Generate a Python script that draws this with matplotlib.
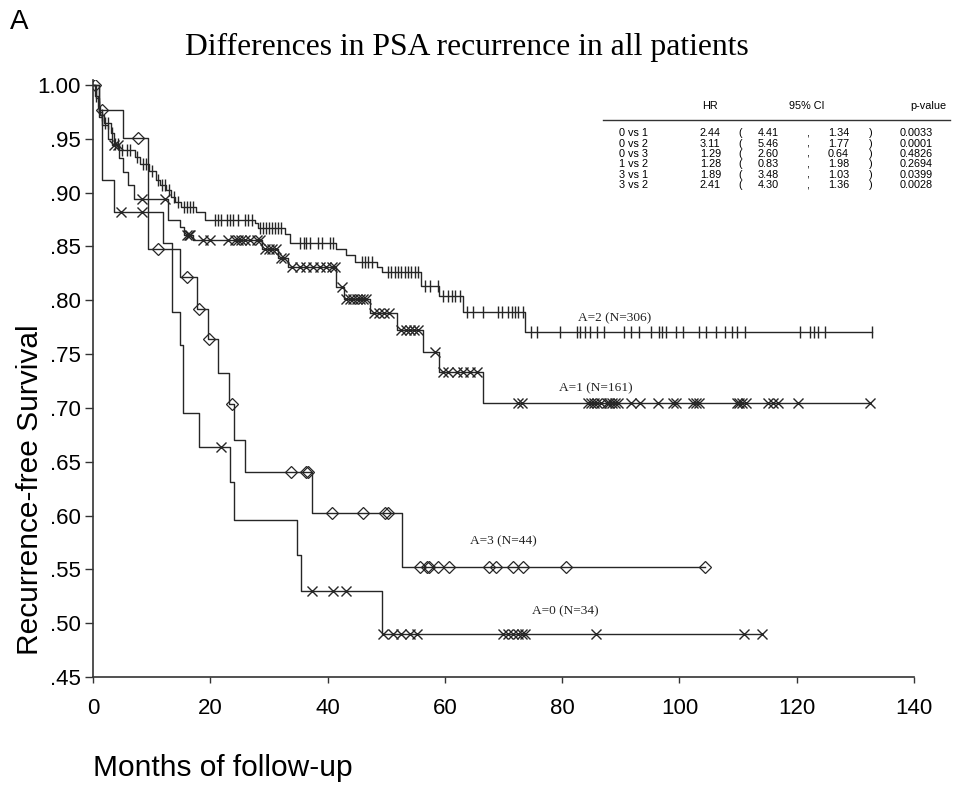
import numpy as np
import matplotlib
matplotlib.use("Agg")
import matplotlib.pyplot as plt
from matplotlib.ticker import FixedLocator

# ---------------- data ----------------
# A=0 (N=34)
a0_times = [0, 1.0, 1.6, 3.5, 12.0, 13.4, 14.8, 15.4, 18.0, 23.4, 24.1, 34.8, 35.4, 49.2]
a0_surv = [1.0, 0.970, 0.912, 0.882, 0.853, 0.789, 0.758, 0.695, 0.664, 0.631, 0.596, 0.563, 0.530, 0.490]
a0_cens = [4.7, 8.3, 21.9, 37.4, 41.0, 43.2, 49.4, 51.2, 52.5, 54.0, 55.3, 69.9, 70.8, 71.6,
           72.5, 73.1, 73.6, 85.7, 111.0, 114.0]

# A=1 (N=161)
a1_times = [0, 0.5, 1.0, 1.5, 2.5, 3.2, 4.5, 5.2, 6.0, 7.0, 12.8, 14.8, 15.5, 17.0, 28.8, 31.6,
            33.3, 41.5, 42.8, 47.3, 51.8, 56.3, 59.0, 66.5]
a1_surv = [1.0, 0.988, 0.975, 0.963, 0.950, 0.944, 0.932, 0.919, 0.907, 0.894, 0.875, 0.868, 0.861,
           0.856, 0.848, 0.839, 0.831, 0.8125, 0.801, 0.7885, 0.772, 0.752, 0.733, 0.705]
a1_cens = [3.5, 4.2, 8.3, 12.3, 16.0, 16.3, 16.6, 18.8, 19.9, 23.1, 24.2, 24.8, 25.3, 25.9, 26.8,
           27.9, 28.5, 29.3, 30.0, 30.6, 31.2, 32.0, 32.6, 33.9, 35.3, 36.4, 37.6, 38.7, 39.8, 40.7,
           41.3, 42.4, 43.2, 43.8, 44.4, 45.0, 45.5, 46.1, 46.6, 47.9, 48.7, 49.6, 50.4, 52.5, 53.3,
           54.0, 54.8, 55.5, 58.3, 59.7, 60.6, 62.0, 63.1, 64.3, 65.4, 72.5, 73.1, 84.4, 85.0, 85.4,
           85.9, 86.7, 87.6, 88.0, 88.5, 89.0, 89.6, 91.8, 93.2, 96.4, 98.9, 99.5, 102.3, 102.9,
           103.4, 109.8, 110.2, 110.6, 111.4, 115.1, 116.0, 116.8, 120.2, 132.5]

# A=2 (N=306)
a2_times = [0, 0.3, 0.8, 1.2, 1.8, 3.0, 3.5, 4.5, 7.2, 8.0, 9.5, 10.8, 11.5, 12.5, 13.3, 14.0, 15.0,
            17.5, 19.1, 27.6, 28.2, 32.7, 33.6, 41.5, 43.2, 44.7, 48.4, 49.2, 56.0, 59.0, 63.1, 73.6]
a2_surv = [1.0, 0.990, 0.980, 0.972, 0.965, 0.955, 0.945, 0.940, 0.933, 0.927, 0.920, 0.912, 0.907,
           0.902, 0.896, 0.891, 0.887, 0.882, 0.8745, 0.8715, 0.867, 0.862, 0.853, 0.848, 0.842,
           0.836, 0.831, 0.826, 0.813, 0.804, 0.789, 0.7707]
a2_cens = [0.5, 1.0, 1.5, 2.0, 2.5, 3.3, 3.8, 4.2, 5.0, 5.8, 6.3, 7.5, 8.5, 9.0, 10.0, 11.0, 11.8,
           12.3, 13.0, 13.8, 14.5, 15.5, 16.0, 16.5, 17.0, 20.8, 21.4, 21.9, 22.8, 23.4, 23.9, 24.8,
           25.9, 26.5, 27.1, 28.5, 29.0, 29.5, 30.0, 30.5, 31.0, 31.5, 32.0, 35.3, 35.9, 36.4, 37.0,
           38.4, 39.0, 40.4, 41.0, 45.8, 46.4, 46.9, 47.5, 50.3, 50.9, 51.5, 52.0, 52.6, 53.2, 53.8,
           54.3, 54.9, 55.5, 56.6, 57.4, 58.9, 59.7, 60.5, 61.2, 61.8, 62.5, 63.7, 64.8, 66.5, 69.1,
           69.7, 70.8, 71.4, 72.0, 72.5, 73.4, 74.7, 75.7, 79.6, 82.6, 83.1, 83.9, 84.7, 85.9, 87.2,
           90.5, 91.8, 93.1, 95.2, 96.5, 97.1, 97.7, 99.5, 100.6, 103.4, 104.5, 106.3, 107.7, 108.9,
           109.9, 111.2, 120.6, 122.2, 122.9, 123.6, 124.8, 132.9]

# A=3 (N=44)
a3_times = [0, 1.0, 5.2, 9.4, 14.8, 17.7, 19.6, 21.4, 23.2, 24.0, 25.9, 37.4, 52.7]
a3_surv = [1.0, 0.977, 0.951, 0.848, 0.822, 0.792, 0.764, 0.732, 0.704, 0.670, 0.640, 0.602, 0.552]
a3_cens = [0.3, 1.5, 7.7, 11.1, 16.1, 18.0, 19.8, 23.7, 33.7, 36.4, 36.7, 40.8, 46.1, 49.8, 50.3,
           55.7, 56.9, 57.3, 58.9, 60.7, 67.6, 68.8, 71.7, 73.3, 80.6, 104.4]

group_labels = ["A=0 (N=34)", "A=1 (N=161)", "A=2 (N=306)", "A=3 (N=44)"]
label_pos = [(80.6, 0.511), (85.8, 0.718), (88.9, 0.7835), (69.9, 0.576)]

# table
cmp_names = ["0 vs 1", "0 vs 2", "0 vs 3", "1 vs 2", "3 vs 1", "3 vs 2"]
hr_vals = ["2.44", "3.11", "1.29", "1.28", "1.89", "2.41"]
ci_first = ["4.41", "5.46", "2.60", "0.83", "3.48", "4.30"]
ci_second = ["1.34", "1.77", "0.64", "1.98", "1.03", "1.36"]
p_vals = ["0.0033", "0.0001", "0.4826", "0.2694", "0.0399", "0.0028"]

x_ticks = [0, 20, 40, 60, 80, 100, 120, 140]
y_ticks = [0.45, 0.50, 0.55, 0.60, 0.65, 0.70, 0.75, 0.80, 0.85, 0.90, 0.95, 1.00]
y_ticklabels = [".45", ".50", ".55", ".60", ".65", ".70", ".75", ".80", ".85", ".90", ".95", "1.00"]

# ---------------- figure ----------------
W, H = 958, 786
fig = plt.figure(figsize=(W / 100, H / 100), dpi=100)
ymin, ymax = 0.45, 1.005
ax_l, ax_r = 93, 914
ax_b = 677
ax_t = 85 - (ymax - 1.0) * 1076
ax = fig.add_axes([ax_l / W, 1 - ax_b / H, (ax_r - ax_l) / W, (ax_b - ax_t) / H])
ax.set_xlim(0, 140)
ax.set_ylim(ymin, ymax)

lc = "#262626"
serif = ["Liberation Serif", "DejaVu Serif"]
sans = ["Liberation Sans", "DejaVu Sans"]


def draw(times, surv, cens, marker, ms, mew):
    t = np.asarray(times, float)
    s = np.asarray(surv, float)
    c = np.asarray(cens, float)
    tend = max(t.max(), c.max())
    tt = np.append(t, tend)
    ss = np.append(s, s[-1])
    ax.step(tt, ss, where="post", color=lc, lw=1.0, zorder=2)
    idx = np.searchsorted(t, c, side="right") - 1
    ax.plot(c, s[idx], linestyle="none", marker=marker, ms=ms, mew=mew,
            mfc="none", mec=lc, zorder=3)


draw(a0_times, a0_surv, a0_cens, "x", 7.5, 1.0)
draw(a1_times, a1_surv, a1_cens, "x", 6.5, 1.0)
draw(a2_times, a2_surv, a2_cens, "|", 9, 1.0)
draw(a3_times, a3_surv, a3_cens, "D", 6, 0.9)

for lab, (lx, ly) in zip(group_labels, label_pos):
    ax.text(lx, ly, lab, fontsize=9.6, family=serif, ha="center", va="center", color="#222222")

for sp in ["top", "right"]:
    ax.spines[sp].set_visible(False)
for sp in ["left", "bottom"]:
    ax.spines[sp].set_linewidth(1.2)
    ax.spines[sp].set_color("#333333")

ax.xaxis.set_major_locator(FixedLocator(x_ticks))
ax.set_xticklabels([str(v) for v in x_ticks], fontsize=16, family=sans)
ax.yaxis.set_major_locator(FixedLocator(y_ticks))
ax.set_yticklabels(y_ticklabels, fontsize=16, family=sans)
ax.tick_params(axis="x", direction="out", length=4, width=1, pad=11, colors="#333333",
               labelcolor="black")
ax.tick_params(axis="y", direction="out", length=6, width=1, pad=3, colors="#333333",
               labelcolor="black")

# axis labels
fig.text(30 / W, 1 - 490 / H, "Recurrence-free Survival", rotation=90, fontsize=21.5,
         family=sans, ha="center", va="center")
fig.text(93 / W, 1 - 768 / H, "Months of follow-up", fontsize=21.5, family=sans,
         ha="left", va="center")

# title and panel letter
fig.text(467 / W, 1 - 47 / H, "Differences in PSA recurrence in all patients", fontsize=22.8,
         family=serif, ha="center", va="center")
fig.text(10 / W, 1 - 22 / H, "A", fontsize=20, family=sans, ha="left", va="center")

# table
tfs = 7.8
hy = 1 - 106 / H
fig.text(710 / W, hy, "HR", fontsize=tfs, family=sans, ha="center", va="center")
fig.text(807 / W, hy, "95% CI", fontsize=tfs, family=sans, ha="center", va="center")
fig.text(946 / W, hy, "p-value", fontsize=tfs, family=sans, ha="right", va="center")
fig.add_artist(plt.Line2D([603 / W, 950 / W], [1 - 119.5 / H, 1 - 119.5 / H],
                          color="#333333", lw=1.0))
row_y0, row_dy = 133.3, 10.35
for i in range(len(cmp_names)):
    y = 1 - (row_y0 + i * row_dy) / H
    fig.text(619 / W, y, cmp_names[i], fontsize=tfs, family=sans, ha="left", va="center")
    fig.text(700 / W, y, hr_vals[i], fontsize=tfs, family=sans, ha="left", va="center")
    fig.text(738 / W, y, "(", fontsize=tfs, family=sans, ha="left", va="center")
    fig.text(758 / W, y, ci_first[i], fontsize=tfs, family=sans, ha="left", va="center")
    fig.text(806 / W, y, ",", fontsize=tfs, family=sans, ha="left", va="center")
    fig.text(828 / W, y, ci_second[i], fontsize=tfs, family=sans, ha="left", va="center")
    fig.text(869 / W, y, ")", fontsize=tfs, family=sans, ha="left", va="center")
    fig.text(900 / W, y, p_vals[i], fontsize=tfs, family=sans, ha="left", va="center")

fig.savefig("out.png", dpi=100, facecolor="white")
